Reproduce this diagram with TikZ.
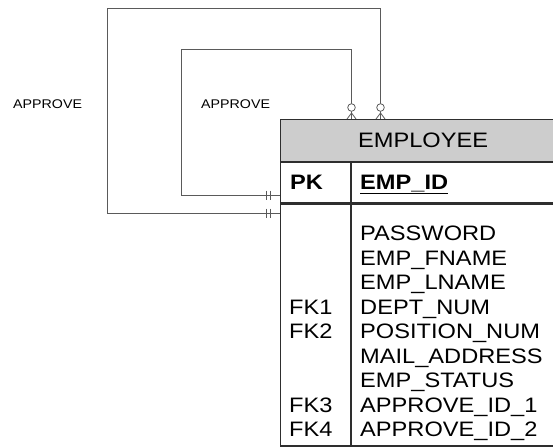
\documentclass[tikz,border=0pt]{standalone}
\usepackage{xcolor}
\usepackage{fontspec}
\setmainfont{Liberation Sans}[FakeStretch=1.13]
\usetikzlibrary{calc, positioning}

\definecolor{relcol}{HTML}{5A5A5A}
\definecolor{tabcol}{HTML}{2E2E2E}
\definecolor{hdrfill}{HTML}{CDCDCD}

\tikzset{
  rel/.style={draw=relcol, line width=0.8pt},
  tabline/.style={draw=tabcol, line width=1.2pt},
  attr/.style={anchor=base west, inner sep=0pt, font=\fontsize{20.9}{24}\selectfont},
  keyattr/.style={attr, font=\fontsize{20.9}{24}\selectfont\bfseries},
  rellabel/.style={anchor=base west, inner sep=0pt, font=\fontsize{12.6}{14}\selectfont},
  zmany/.pic={
    \draw[rel, fill=white] (0,-11.5) circle (3.8);
    \draw[rel] (0,-6) -- (-4.5,0) (0,-6) -- (4.5,0);
  },
  onlyone/.pic={
    \draw[rel] (-13.5,-4.5) -- (-13.5,4.5) (-10,-4.5) -- (-10,4.5);
  },
}

\begin{document}
\begin{tikzpicture}[x=1pt, y=-1pt]
  \useasboundingbox (0,0) rectangle (553,447);

  % entity table
  \node[tabline, fill=hdrfill, minimum width=285pt, minimum height=42pt, anchor=north west, inner sep=0pt,
        font=\fontsize{20.9}{24}\selectfont] (hdr) at (280,119) {};
  \node[anchor=base, inner sep=0pt, font=\fontsize{20.9}{24}\selectfont] (hdrtext) at ($(hdr.north)+(0,28)$) {EMPLOYEE};
  \node[tabline, minimum width=285pt, minimum height=40pt, anchor=north west, inner sep=0pt] (pkrow) at (hdr.south west) {};
  \node[tabline, minimum width=285pt, minimum height=242pt, anchor=north west, inner sep=0pt] (body) at (pkrow.south west) {};
  \draw[tabline] ($(pkrow.north west)+(71,0)$) -- ($(body.south west)+(71,0)$);

  \node[keyattr] (pk) at ($(pkrow.north west)+(10,27)$) {PK};
  \node[keyattr] (empid) at ($(pkrow.north west)+(80,27)$) {\underline{EMP\_ID}};

  \foreach \name [count=\i from 0] in {PASSWORD, EMP\_FNAME, EMP\_LNAME, DEPT\_NUM, POSITION\_NUM,
                                       MAIL\_ADDRESS, EMP\_STATUS, APPROVE\_ID\_1, APPROVE\_ID\_2}
    \node[attr] (at\i) at ($(body.north west)+(80,37.3+24.5*\i)$) {\name};
  \foreach \fk/\row in {FK1/3, FK2/4, FK3/7, FK4/8}
    \node[attr] (\fk) at ($(body.north west)+(9,37.3+24.5*\row)$) {\fk};

  % recursive relationships
  \coordinate (topA) at ($(hdr.north west)+(100.5,0)$);
  \coordinate (topB) at ($(hdr.north west)+(71.5,0)$);
  \coordinate (leftA) at ($(hdr.north west)+(0,94)$);
  \coordinate (leftB) at ($(hdr.north west)+(0,76)$);
  \coordinate (cornA) at (107,8);
  \coordinate (cornB) at (181,49);

  \draw[rel] (topA) |- (cornA) |- (leftA);
  \draw[rel] (topB) |- (cornB) |- (leftB);
  \pic at (topA) {zmany};
  \pic at (topB) {zmany};
  \pic at (leftA) {onlyone};
  \pic at (leftB) {onlyone};

  \node[rellabel] (lblA) at (13,108) {APPROVE};
  \node[rellabel] (lblB) at (201,108) {APPROVE};
\end{tikzpicture}
\end{document}
